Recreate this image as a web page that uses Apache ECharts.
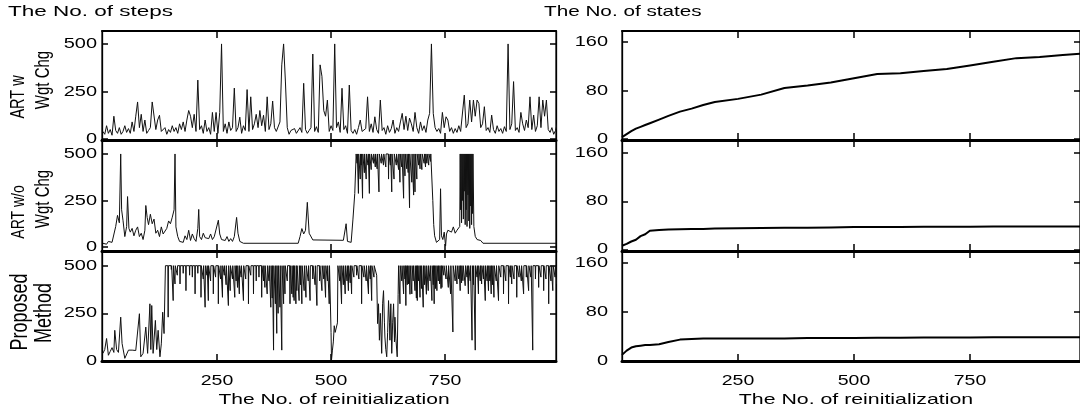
<!DOCTYPE html>
<html><head><meta charset="utf-8">
<script src="https://cdn.jsdelivr.net/npm/echarts@6/dist/echarts.min.js"></script>
<style>html,body{margin:0;padding:0;background:#fff}#c{width:1080px;height:414px}</style>
</head><body><div id="c"></div>
<script>
// ---------------- data ----------------
// ART w/ weight change: sampled every 4 reinitializations (x = 0,4,...,996)
const reinitStep = 4;
const stepsArtW = [
40,25,70,30,50,20,120,45,30,60,
25,40,70,35,55,30,90,40,120,195,
60,130,40,100,30,45,60,195,195,50,
100,125,40,30,60,25,50,35,70,40,
60,30,80,50,90,40,100,150,120,60,
130,40,310,50,70,30,100,40,60,25,
140,40,140,30,140,500,40,80,30,90,
45,60,268,40,60,115,30,70,45,260,
40,222,50,80,130,60,150,70,125,40,
222,50,80,200,60,40,30,90,390,500,
300,60,25,45,35,55,30,40,60,35,
293,50,30,45,60,447,40,65,35,390,
330,150,120,205,40,70,45,500,60,90,
35,267,50,70,30,284,45,30,50,25,
60,100,40,30,55,222,40,80,35,117,
50,30,205,45,60,25,70,35,55,100,
30,60,40,90,135,50,120,45,110,80,
40,140,60,30,90,45,70,35,100,135,
500,135,60,40,55,30,140,60,117,100,
40,60,30,55,35,70,40,50,231,60,
80,205,90,205,120,205,187,60,80,170,
45,60,35,126,50,30,70,40,55,30,
65,40,500,50,80,302,45,60,35,140,
80,45,100,60,222,50,126,40,70,222,
60,205,120,205,50,35,60,25,45,82];

// the step count saturates at this cap (read from the plateaus)
const stepCap = 500;

// ART w/o weight change: [reinitialization, steps]
const artWoStart = [[0,20],[4,25],[8,15],[12,30],[16,20],[20,25],[24,20],[28,110],[32,170],[36,130],[39,500],[41,200],[44,144],[48,56],[52,110],[54,271],[57,100],[60,80],[64,100],[68,60],[72,90],[76,108],[80,56],[84,74],[88,40],[92,90],[94,223],[97,159],[100,120],[104,176],[108,125],[112,150],[116,74],[120,90],[124,56],[128,108],[132,70],[136,60],[140,100],[144,140],[148,125],[152,160],[156,200],[158,500],[160,108],[164,56],[168,30],[172,35],[176,25],[180,60],[184,40],[188,90],[192,35],[196,70],[200,45],[204,30],[208,100],[210,202],[212,56],[216,40],[220,74],[224,50],[228,60],[232,45],[236,70],[240,40],[244,55],[248,60],[253,144],[256,70],[260,40],[264,50],[268,35],[272,56],[276,30],[280,45],[284,30],[288,56],[293,159],[296,74],[300,30],[304,30],[308,20],[428,20],[432,56],[436,99],[440,70],[444,90],[448,240],[452,74],[456,82],[460,38],[464,36],[527,36],[533,125],[536,30],[540,38],[544,25],[548,150],[552,288],[555,500]];
// drops below the cap while on the plateau: [reinitialization, steps]
const artWoDrops = [[557,450],[560,288],[564,365],[566,440],[569,262],[573,399],[577,365],[581,440],[584,288],[588,416],[593,450],[597,430],[601,420],[605,296],[610,450],[615,440],[620,430],[626,365],[630,440],[633,296],[638,365],[643,440],[648,416],[651,348],[655,430],[659,262],[662,382],[666,420],[669,400],[672,211],[677,348],[681,279],[684,296],[688,365],[692,440],[695,420],[699,416],[704,450],[707,430],[710,450],[714,440],[718,460]];
const artWoTail = [[721,500],[723,250],[725,120],[727,60],[731,25],[735,20],[738,40],[740,313],[742,60],[745,40],[748,80],[751,5],[753,70],[756,90],[760,100],[764,80],[768,108],[772,74],[776,90],[780,95],[782,110],[783,500],[784,200],[785,500],[786,130],[787,500],[788,250],[789,500],[790,150],[791,500],[792,300],[793,500],[794,120],[795,500],[796,200],[797,500],[798,110],[799,500],[800,280],[801,500],[802,140],[803,500],[804,100],[805,500],[806,220],[807,500],[808,120],[809,500],[810,180],[811,500],[813,110],[816,57],[820,40],[824,50],[828,35],[833,20],[993,20]];

// Proposed method: [reinitialization, steps]
const proposedStart = [[0,40],[4,60],[8,118],[12,30],[16,50],[20,70],[24,45],[26,161],[30,60],[34,45],[39,230],[42,92],[48,14],[52,22],[56,57],[60,50],[64,57],[68,60],[72,55],[76,57],[80,248],[83,22],[88,40],[92,30],[94,178],[98,40],[103,300],[105,60],[107,291],[110,40],[115,213],[118,60],[121,161],[125,22],[128,90],[131,256],[134,144],[137,500]];
const proposedDropsA = [[143,230],[150,480],[154,317],[158,404],[163,450],[169,404],[176,460],[182,369],[190,450],[196,440],[202,352],[208,460],[215,334],[220,430],[224,282],[228,450],[231,317],[236,420],[242,352],[247,440],[253,300],[258,430],[262,334],[266,450],[270,400],[275,291],[279,369],[284,430],[289,334],[292,420],[295,386],[299,352],[303,440],[308,317],[313,430],[319,300],[324,450],[330,352],[336,420],[342,440],[348,334],[352,420],[355,386],[360,352],[364,420],[368,282],[371,330],[374,57],[378,300],[381,145],[384,250],[388,282],[392,57],[396,300],[399,352],[404,420],[410,300],[414,352],[417,334],[419,317],[423,300],[425,369],[430,317],[433,400],[436,300],[441,369],[445,334],[450,420],[454,317],[460,430],[465,400],[469,291],[475,420],[480,369],[484,430],[488,334],[492,420],[496,300]];
const proposedDip1 = [[499,500],[500,150],[501,5],[503,57],[505,100],[507,185],[509,150],[512,144],[514,200],[515,500]];
const proposedDropsB = [[519,420],[523,300],[527,400],[531,352],[535,420],[538,369],[542,410],[545,352],[550,440],[556,450],[561,430],[567,300],[572,440],[577,420],[582,352],[586,430],[589,317],[594,440]];
const proposedDip2 = [[598,500],[600,450],[602,196],[604,300],[606,109],[608,250],[611,40],[613,300],[615,369],[617,200],[618,126],[620,60],[622,22],[624,150],[626,317],[628,200],[629,109],[631,300],[633,40],[635,200],[637,300],[639,100],[640,230],[642,120],[645,22],[647,350],[648,500]];
const proposedDropsC = [[651,300],[655,420],[659,352],[662,430],[664,291],[667,400],[670,404],[673,350],[677,352],[680,420],[684,369],[687,330],[689,317],[692,420],[695,334],[698,380],[702,282],[705,400],[709,350],[713,369],[717,420],[721,317],[724,400],[726,300],[729,380],[732,369],[735,420],[738,404],[741,380],[743,386],[747,450],[752,430],[757,386],[762,352],[767,152],[772,420],[776,404],[780,430],[783,369],[786,410],[789,421],[794,395],[798,440],[801,352],[805,420],[809,109],[812,400],[816,57],[820,440],[823,352],[827,420],[830,404],[834,430],[838,317],[842,420],[845,369],[848,420],[851,352],[854,400],[857,334],[862,420],[867,317],[872,440],[878,352],[883,420],[889,300],[893,440],[896,404],[901,430],[907,334],[912,440],[917,420],[922,352],[928,440],[933,369],[938,440],[942,57],[948,430],[955,386],[960,440],[966,369],[971,430],[977,300],[982,420],[986,369],[991,440],[995,404]];

// number of states (right column)
const statesX = [0,10,20,30,40,50,60,80,100,125,150,175,200,250,300,350,400,450,500,550,600,650,700,750,800,850,900,950,987];
const statesArtW = [3,8,13,17,20,23,26,32,38,45,50,56,61,66,73,84,88,93,100,107,108,112,115,121,127,133,135,138,140];
const statesArtWo = [6,9,13,16,22,25,31,32,33,33.5,34,34,34.5,35,35.5,36,36,36.5,37,37,37,37.5,37.5,37.5,38,38,38,38,38];
const statesProposed = [10,17,22,24,25,26,26,27.5,31,35,36,37,37,37,37,37,37.5,37.5,37.5,38,38,38.5,38.5,38.5,39,39,39,39,39];

const stepTicks = [0,250,500];
const stateTicks = [0,80,160];
const reinitTicks = [250,500,750];
const rowNames = [['ART w','Wgt Chg'],['ART w/o','Wgt Chg'],['Proposed','Method']];

// ---------------- build series data ----------------
function onPlateau(drops){ // each drop is a thin vertical notch below the cap
  const out = [];
  drops.forEach(d => { out.push([d[0]-0.6, stepCap], [d[0], d[1]], [d[0]+0.6, stepCap]); });
  return out;
}
const dataArtW = stepsArtW.map((v,i)=>[i*reinitStep, v]);
const dataArtWo = [].concat(artWoStart, onPlateau(artWoDrops), artWoTail);
const dataProposed = [].concat(proposedStart, onPlateau(proposedDropsA), proposedDip1,
  onPlateau(proposedDropsB), proposedDip2, onPlateau(proposedDropsC));

// ---------------- layout ----------------
const FONT = '"Liberation Sans", Arial, sans-serif';
const rows = [{top:31,height:109},{top:140,height:111},{top:251,height:110}];
const leftRange = [{min:-5,max:568},{min:-21.5,max:575},{min:0,max:577}];
const rightRange = [{min:-1.6,max:177.6},{min:-2.8,max:182},{min:0,max:180}];
const grids = [], xAxes = [], yAxes = [], series = [];
const stepData = [dataArtW, dataArtWo, dataProposed];
const stateSeries = [statesArtW, statesArtWo, statesProposed];

function addPanel(gi, left, width, r, isLeft){
  grids.push({left:left, top:rows[r].top, width:width, height:rows[r].height, show:true, borderColor:'#000', borderWidth:1.2});
  const xr = isLeft ? {min:-2,max:993} : {min:0,max:987};
  xAxes.push({type:'value', gridIndex:gi, position:'bottom', min:xr.min, max:xr.max,
    axisLine:{show:true, onZero:false, lineStyle:{color:'#000', width:3}},
    axisTick:{show:true, inside:true, length:7, customValues:reinitTicks, lineStyle:{color:'#000', width:1.5}},
    axisLabel:{show:false}, splitLine:{show:false}});
  xAxes.push({type:'value', gridIndex:gi, position:'top', min:xr.min, max:xr.max,
    axisLine:{show:true, onZero:false, lineStyle:{color:'#000', width:2}},
    axisTick:{show:true, inside:true, length:7, customValues:reinitTicks, lineStyle:{color:'#000', width:1.5}},
    axisLabel:{show:false}, splitLine:{show:false}});
  const yr = isLeft ? leftRange[r] : rightRange[r];
  const ticks = isLeft ? stepTicks : stateTicks;
  ['left','right'].forEach(pos => yAxes.push({type:'value', gridIndex:gi, position:pos, min:yr.min, max:yr.max,
    axisLine:{show:true, onZero:false, lineStyle:{color:'#000', width:1.3}},
    axisTick:{show:true, inside:true, length:6, customValues:ticks, lineStyle:{color:'#000', width:1.5}},
    axisLabel:{show:false}, splitLine:{show:false}}));
}
for (let r=0;r<3;r++) addPanel(r, 102, 454, r, true);
for (let r=0;r<3;r++) addPanel(3+r, 622, 460, r, false);

for (let r=0;r<3;r++){
  series.push({type:'line', xAxisIndex:2*r, yAxisIndex:2*r, showSymbol:false, symbol:'none', animation:false,
    lineStyle:{color:'#111', width:1}, data: stepData[r]});
  const g = 3+r;
  series.push({type:'line', xAxisIndex:2*g, yAxisIndex:2*g, showSymbol:false, symbol:'none', animation:false,
    lineStyle:{color:'#000', width:2}, data: stateSeries[r].map((v,i)=>[statesX[i], v])});
}

const chart = echarts.init(document.getElementById('c'), null, {renderer:'canvas'});
chart.setOption({animation:false, backgroundColor:'#fff', grid:grids, xAxis:xAxes, yAxis:yAxes, series:series});

// ---------------- texts (scanned type is horizontally stretched) ----------------
function txt(x,y,s,o){
  o = o||{};
  return {type:'text', x:x, y:y, rotation:o.rot||0, scaleX:o.sx||1, scaleY:o.sy||1, silent:true, z:10,
    style:{text:s, fill:'#000', font:(o.size||15)+'px '+FONT, textAlign:o.align||'left', textVerticalAlign:'middle'}};
}
const graphics = [
  txt(8,11.5,'The No. of steps',{sx:1.5}),
  txt(544,11.5,'The No. of states',{sx:1.38}),
  txt(334,400,'The No. of reinitialization',{align:'center', sx:1.4}),
  txt(856,400,'The No. of reinitialization',{align:'center', sx:1.42})
];
// tick labels placed through the axes' own scales
for (let r=0;r<3;r++){
  stepTicks.forEach(v => {
    const y = chart.convertToPixel({yAxisIndex:2*r}, v);
    graphics.push(txt(97, y, String(v), {align:'right', sx:1.33}));
  });
  stateTicks.forEach(v => {
    const y = chart.convertToPixel({yAxisIndex:2*(3+r)}, v);
    graphics.push(txt(608, y, String(v), {align:'right', sx:1.33}));
  });
}
[2,5].forEach(gi => reinitTicks.forEach(v => {
  const x = chart.convertToPixel({xAxisIndex:2*gi}, v);
  graphics.push(txt(x, 381, String(v), {align:'center', sx:1.3}));
}));
const labelPos = [[[19,97,14.5],[43,80,15]],[[19,212,14],[43,199,15]],[[20,312,18],[44,313,18]]];
rowNames.forEach((pair,r)=>{
  pair.forEach((s,k)=>{
    const p = labelPos[r][k];
    graphics.push(txt(p[0], p[1], s, {align:'center', rot:Math.PI/2, size:p[2], sy:1.35}));
  });
});
chart.setOption({graphic:graphics});
</script></body></html>
